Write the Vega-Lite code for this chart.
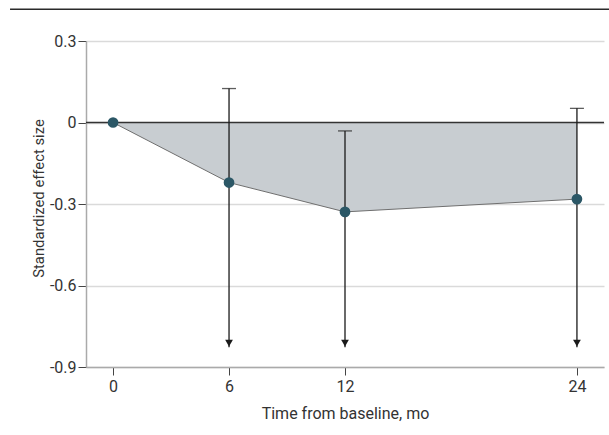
{
  "$schema": "https://vega.github.io/schema/vega-lite/v6.json",
  "width": 518,
  "height": 326,
  "autosize": {"type": "none"},
  "padding": {"left": 86, "top": 41, "right": 5, "bottom": 68},
  "background": "white",
  "config": {
    "view": {"stroke": null},
    "font": "Roboto",
    "axis": {
      "labelFont": "Roboto",
      "titleFont": "Roboto",
      "labelFontSize": 16,
      "titleFontSize": 16,
      "titleFontWeight": "normal",
      "labelColor": "#333333",
      "titleColor": "#333333",
      "domainColor": "#aaaaaa",
      "domainWidth": 1.5,
      "tickColor": "#444444",
      "tickSize": 8,
      "gridColor": "#dadada",
      "gridWidth": 1.5
    },
    "axisY": {"titleFontSize": 14.8}
  },
  "datasets": {
    "series": [
      {"month": 0, "effect": 0},
      {"month": 6, "effect": -0.221},
      {"month": 12, "effect": -0.329},
      {"month": 24, "effect": -0.282}
    ],
    "ci": [
      {"month": 6, "upper": 0.125, "lower": -0.827},
      {"month": 12, "upper": -0.031, "lower": -0.827},
      {"month": 24, "upper": 0.052, "lower": -0.827}
    ],
    "one": [{}]
  },
  "layer": [
    {
      "data": {"name": "series"},
      "mark": {"type": "area", "color": "#c8cdd1", "opacity": 1},
      "encoding": {
        "x": {
          "field": "month",
          "type": "quantitative",
          "scale": {"domain": [-1.4, 25.4], "nice": false, "zero": false},
          "axis": {
            "title": "Time from baseline, mo",
            "values": [0, 6, 12, 24],
            "grid": false,
            "labelPadding": 3,
            "titleBaseline": "alphabetic",
            "titleY": 51
          }
        },
        "y": {
          "field": "effect",
          "type": "quantitative",
          "scale": {"domain": [-0.9, 0.3], "nice": false, "zero": false},
          "axis": {
            "title": "Standardized effect size",
            "values": [0.3, 0, -0.3, -0.6, -0.9],
            "labelExpr": "datum.value < -0.01 ? '-' + format(-datum.value, '.1f') : (datum.value > 0.01 ? format(datum.value, '.1f') : '0')",
            "grid": true,
            "labelPadding": 2,
            "titleBaseline": "alphabetic",
            "titleX": -43,
            "titleY": 157
          }
        },
        "y2": {"datum": 0}
      }
    },
    {
      "data": {"name": "series"},
      "mark": {"type": "line", "color": "#6f6f6f", "strokeWidth": 1},
      "encoding": {
        "x": {"field": "month", "type": "quantitative"},
        "y": {"field": "effect", "type": "quantitative"}
      }
    },
    {
      "data": {"name": "one"},
      "mark": {"type": "rule", "color": "#333333", "strokeWidth": 1.3},
      "encoding": {"y": {"datum": 0}}
    },
    {
      "data": {"name": "ci"},
      "mark": {"type": "rule", "color": "#1a1a1a", "strokeWidth": 1.3},
      "encoding": {
        "x": {"field": "month", "type": "quantitative"},
        "y": {"field": "upper", "type": "quantitative"},
        "y2": {"field": "lower"}
      }
    },
    {
      "data": {"name": "ci"},
      "mark": {"type": "tick", "orient": "horizontal", "color": "#1a1a1a", "size": 14, "thickness": 1.3},
      "encoding": {
        "x": {"field": "month", "type": "quantitative"},
        "y": {"field": "upper", "type": "quantitative"}
      }
    },
    {
      "data": {"name": "ci"},
      "mark": {"type": "point", "shape": "triangle-down", "filled": true, "color": "#1a1a1a", "opacity": 1, "size": 60, "yOffset": -4},
      "encoding": {
        "x": {"field": "month", "type": "quantitative"},
        "y": {"field": "lower", "type": "quantitative"}
      }
    },
    {
      "data": {"name": "series"},
      "mark": {"type": "point", "shape": "circle", "filled": true, "color": "#2b5766", "opacity": 1, "size": 115},
      "encoding": {
        "x": {"field": "month", "type": "quantitative"},
        "y": {"field": "effect", "type": "quantitative"}
      }
    },
    {
      "data": {"name": "one"},
      "mark": {"type": "rule", "color": "#2a2a2a", "strokeWidth": 1.6, "clip": false},
      "encoding": {
        "x": {"datum": -5.33},
        "x2": {"datum": 25.7},
        "y": {"datum": 0.4167}
      }
    }
  ]
}
